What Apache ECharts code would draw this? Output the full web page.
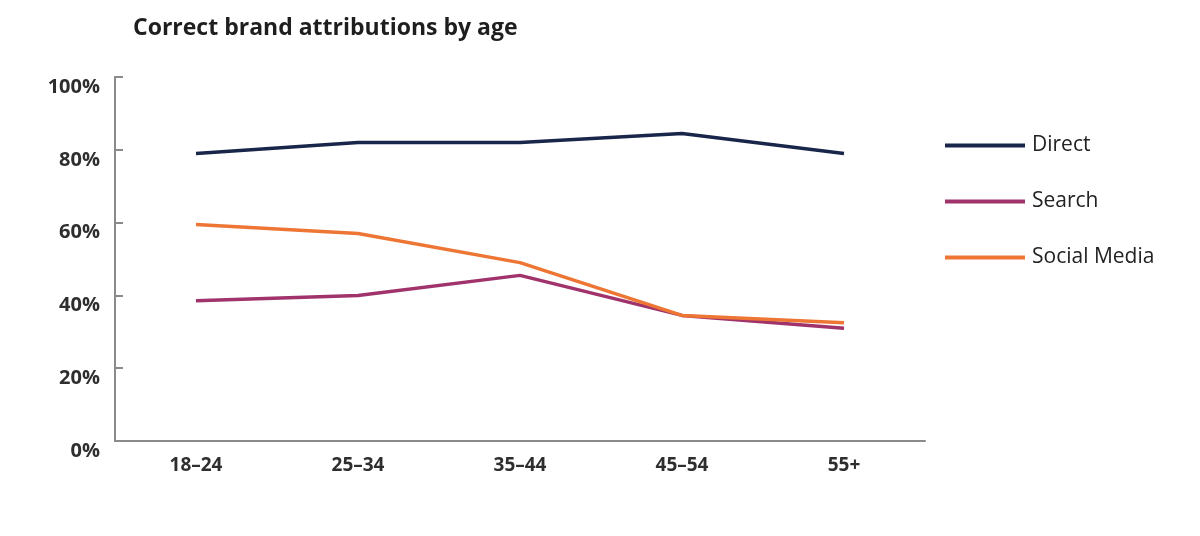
<!DOCTYPE html>
<html><head><meta charset="utf-8">
<script src="https://cdn.jsdelivr.net/npm/echarts@6/dist/echarts.min.js"></script>
<style>html,body{margin:0;padding:0;background:#fff}#c{width:1200px;height:536px}</style>
</head><body><div id="c"></div>
<script>
const categories = ['18–24','25–34','35–44','45–54','55+'];
const direct = [79, 82, 82, 84.5, 79];
const search = [38.5, 40, 45.5, 34.5, 31];
const social = [59.5, 57, 49, 34.5, 32.5];
const yTicks = [0, 20, 40, 60, 80, 100];

const font = '"Open Sans", "Noto Sans", sans-serif';
const chart = echarts.init(document.getElementById('c'));
chart.setOption({
  backgroundColor: '#fff',
  animation: false,
  title: {
    text: 'Correct brand attributions by age',
    left: 128, top: 12,
    textStyle: {fontFamily: font, fontSize: 23, fontWeight: 'bold', color: '#1e1e1e'}
  },
  legend: {
    orient: 'vertical', left: 940, top: 130,
    icon: 'rect', itemWidth: 80, itemHeight: 4, itemGap: 35,
    textStyle: {fontFamily: font, fontSize: 21, color: '#222', padding: [0,0,0,2]},
    data: ['Direct','Search','Social Media']
  },
  grid: {left: 115, right: 275, top: 77, bottom: 95},
  xAxis: {
    type: 'category', data: categories, boundaryGap: true,
    axisLine: {lineStyle: {color: '#8a8a8a', width: 2}},
    axisTick: {alignWithLabel: true, inside: true, length: 9, lineStyle: {color: '#8a8a8a', width: 2}},
    axisLabel: {margin: 15, fontFamily: font, fontSize: 19, fontWeight: 'bold', color: '#2e2e2e'},
    splitLine: {show: false}
  },
  yAxis: {
    type: 'value', min: 0, max: 100, interval: 20,
    axisLine: {show: true, lineStyle: {color: '#8a8a8a', width: 2}},
    axisTick: {show: true, inside: true, length: 8, lineStyle: {color: '#8a8a8a', width: 2}},
    axisLabel: {margin: 15, fontFamily: font, fontSize: 20, fontWeight: 'bold', color: '#2e2e2e',
      verticalAlign: 'top',
      formatter: v => yTicks.includes(v) ? v + '%' : ''},
    splitLine: {show: false}
  },
  series: [
    {name: 'Direct', type: 'line', data: direct, symbol: 'none', lineStyle: {width: 3.5, color: '#18264a'}, itemStyle: {color: '#18264a'}},
    {name: 'Search', type: 'line', data: search, symbol: 'none', lineStyle: {width: 3.5, color: '#a0336b'}, itemStyle: {color: '#a0336b'}},
    {name: 'Social Media', type: 'line', data: social, symbol: 'none', lineStyle: {width: 3.5, color: '#ee7634'}, itemStyle: {color: '#ee7634'}}
  ]
});
</script></body></html>
